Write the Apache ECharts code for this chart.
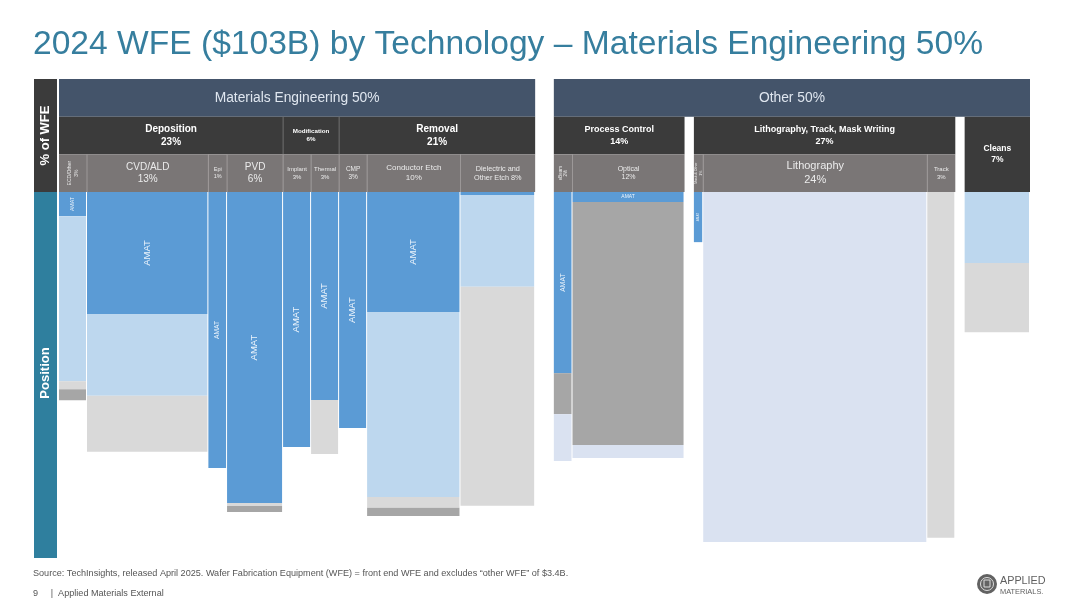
<!DOCTYPE html>
<html><head><meta charset="utf-8">
<script src="https://cdn.jsdelivr.net/npm/echarts@6/dist/echarts.min.js"></script>
<style>html,body{margin:0;padding:0;background:#fff}#c{width:1080px;height:608px}</style>
</head><body><div id="c"></div>
<script>
// ---------------- DATA ----------------
const titleText = '2024 WFE ($103B) by Technology \u2013 Materials Engineering 50%';
const topHeaders = ['Materials Engineering 50%', 'Other 50%'];
const groupNames = ['Deposition\n23%', 'Modification\n6%', 'Removal\n21%', 'Process Control\n14%', 'Lithography, Track, Mask Writing\n27%', 'Cleans\n7%'];
const groupPanel = [0, 0, 0, 1, 1, 1];
const groupSize  = [4, 2, 3, 2, 3, 1];
const columns = ['ECD/Other\n3%', 'CVD/ALD\n13%', 'Epi\n1%', 'PVD\n6%', 'Implant\n3%', 'Thermal\n3%', 'CMP\n3%', 'Conductor Etch\n10%', 'Dielectric and\nOther Etch 8%',
                 'eBeam\n2%', 'Optical\n12%', 'Mask & Other\n1%', 'Lithography\n24%', 'Track\n3%', ''];
// column widths as drawn (share of WFE)
const colWidth = [3, 13, 2, 6, 3, 3, 3, 10, 8, 2, 12, 1, 24, 3, 7];
// position shares per column, stacked from the top
const amat      = [6.6, 33.3, 75.4, 85.0, 69.7, 56.8, 64.5, 32.8, 0.8, 49.5, 2.7, 13.7, 0, 0, 0];
const lightBlue = [45.1, 22.4, 0, 0, 0, 0, 0, 50.5, 25.1, 0, 0, 0, 0, 0, 19.4];
const lightGray = [2.2, 15.3, 0, 0.8, 0, 14.8, 0, 3.0, 59.8, 0, 0, 0, 0, 94.5, 18.9];
const midGray   = [3.0, 0, 0, 1.6, 0, 0, 0, 2.2, 0, 11.2, 66.4, 0, 0, 0, 0];
const lavender  = [0, 0, 0, 0, 0, 0, 0, 0, 0, 12.8, 3.6, 0, 95.6, 0, 0];
const sourceText = 'Source: TechInsights, released April 2025. Wafer Fabrication Equipment (WFE) = front end WFE and excludes \u201cother WFE\u201d of $3.4B.';
const footerText = '9     |  Applied Materials External';

// ---------------- LAYOUT / STYLE ----------------
const FONT = 'Liberation Sans, Arial, sans-serif';
const panelStart = [0, 53];
const groupGap = [0, 1];
const segStyles = [
  {name: 'AMAT', values: amat, color: '#5b9bd5', label: 'AMAT'},
  {name: 'Peer A', values: lightBlue, color: '#bdd7ee'},
  {name: 'Others', values: lightGray, color: '#d9d9d9'},
  {name: 'Peer B', values: midGray, color: '#a6a6a6'},
  {name: 'Peer C', values: lavender, color: '#dae2f1'}
];
const subFont = [{fs: 5, rot: true}, {fs: 10}, {fs: 5.5}, {fs: 10}, {fs: 6}, {fs: 6}, {fs: 6.5}, {fs: 8}, {fs: 7.3},
                 {fs: 4.5, rot: true}, {fs: 7}, {fs: 3.5, rot: true}, {fs: 11}, {fs: 6}, {fs: 8}];
const groupFont = [10, 6.2, 10, 9, 9, 8.5];

// column & group x extents
const colX0 = [], colX1 = [], colGroup = [], groupX0 = [], groupX1 = [];
{
  let cursor = 0, prevPanel = -1, ci = 0;
  groupSize.forEach((n, g) => {
    const p = groupPanel[g];
    if (p !== prevPanel) { cursor = panelStart[p]; prevPanel = p; }
    else cursor += groupGap[p];
    groupX0[g] = cursor;
    for (let k = 0; k < n; k++, ci++) {
      colX0[ci] = cursor; cursor += colWidth[ci]; colX1[ci] = cursor; colGroup[ci] = g;
    }
    groupX1[g] = cursor;
  });
}

// header cells
const cells = [];
topHeaders.forEach((t, p) => {
  const gs = groupPanel.map((pp, i) => pp === p ? i : -1).filter(i => i >= 0);
  cells.push({x0: groupX0[gs[0]], x1: groupX1[gs[gs.length - 1]], r0: 0, r1: 1, text: t, kind: 'top', divider: false});
});
groupNames.forEach((t, g) => {
  const firstCol = colGroup.indexOf(g);
  const single = groupSize[g] === 1 && columns[firstCol] === '';
  const prevAdj = g > 0 && groupPanel[g - 1] === groupPanel[g] && groupGap[groupPanel[g]] === 0;
  cells.push({x0: groupX0[g], x1: groupX1[g], r0: 1, r1: single ? 3 : 2, text: t, kind: 'group', fs: groupFont[g], divider: prevAdj});
});
columns.forEach((t, c) => {
  if (t === '') return;
  const prevAdj = c > 0 && colX1[c - 1] === colX0[c];
  cells.push({x0: colX0[c], x1: colX1[c], r0: 2, r1: 3, text: t, kind: 'sub', fs: subFont[c].fs, rot: !!subFont[c].rot, divider: prevAdj});
});

const cellFill = {top: '#44546a', group: '#3b3b3b', sub: '#7a7676'};
const cellText = {top: '#dfe6ef', group: '#ffffff', sub: '#ebebeb'};
const divColor = {group: '#6a6a6a', sub: '#9c9898'};

function renderHeader(params, api) {
  const c = cells[params.dataIndex];
  const a = api.coord([c.x0, c.r0]), b = api.coord([c.x1, c.r1]);
  const x = a[0], y = a[1], w = b[0] - a[0], h = b[1] - a[1];
  const fs = c.kind === 'top' ? 13.8 : c.fs;
  const children = [
    {type: 'rect', shape: {x, y, width: w, height: h}, style: {fill: cellFill[c.kind]}},
    {type: 'text', x: x + w / 2, y: y + h / 2, rotation: c.rot ? Math.PI / 2 : 0,
     style: {text: c.text, fill: cellText[c.kind], fontSize: fs, fontFamily: FONT,
             fontWeight: c.kind === 'group' ? 'bold' : 'normal', lineHeight: fs * 1.25,
             align: 'center', verticalAlign: 'middle'}}
  ];
  if (c.divider) children.push({type: 'line', shape: {x1: x, y1: y, x2: x, y2: y + h}, style: {stroke: divColor[c.kind], lineWidth: 1}});
  return {type: 'group', children};
}

function makeSegRender(st) {
  return function (params, api) {
    const a = api.coord([api.value(0), api.value(2)]);
    const b = api.coord([api.value(1), api.value(3)]);
    const x = a[0], y = a[1], w = b[0] - a[0] - 1, h = b[1] - a[1];
    const children = [{type: 'rect', shape: {x, y, width: w, height: h}, style: {fill: st.color}}];
    if (st.label) {
      let fs, rot;
      if (h < 14) { fs = Math.min(9, h * 0.5); rot = false; }
      else { fs = Math.min(9.5, w * 0.38, h * 0.6 / 2.78); rot = true; }
      if (fs >= 3) children.push({type: 'text', x: x + w / 2, y: y + h / 2, rotation: rot ? Math.PI / 2 : 0,
        style: {text: st.label, fill: '#eef5fc', fontSize: fs, fontFamily: FONT, align: 'center', verticalAlign: 'middle'}});
    }
    return {type: 'group', children};
  };
}

const cum = colWidth.map(() => 0);
const segSeries = segStyles.map(st => {
  const data = [];
  st.values.forEach((v, c) => {
    if (v > 0) { data.push([colX0[c], colX1[c], cum[c], cum[c] + v]); cum[c] += v; }
  });
  return {type: 'custom', name: st.name, xAxisIndex: 1, yAxisIndex: 1, renderItem: makeSegRender(st),
          encode: {x: [0, 1], y: [2, 3]}, data, silent: true};
});

const totalX = panelStart[1] + 51;
const option = {
  animation: false,
  backgroundColor: '#ffffff',
  title: {text: titleText, left: 28, top: 23, textStyle: {fontSize: 33.6, fontWeight: 'normal', color: '#367e9e', fontFamily: FONT}},
  grid: [
    {left: 59, top: 79, width: 971, height: 113},
    {left: 59, top: 192, width: 971, height: 366}
  ],
  xAxis: [
    {type: 'value', gridIndex: 0, min: 0, max: totalX, show: false},
    {type: 'value', gridIndex: 1, min: 0, max: totalX, show: false}
  ],
  yAxis: [
    {type: 'value', gridIndex: 0, min: 0, max: 3, inverse: true, show: false},
    {type: 'value', gridIndex: 1, min: 0, max: 100, inverse: true, show: false}
  ],
  series: [
    {type: 'custom', name: 'headers', xAxisIndex: 0, yAxisIndex: 0, renderItem: renderHeader, silent: true,
     encode: {x: [0, 1], y: [2, 3]}, data: cells.map(c => [c.x0, c.x1, c.r0, c.r1])}
  ].concat(segSeries),
  graphic: [
    {type: 'rect', shape: {x: 34, y: 79, width: 23, height: 113}, style: {fill: '#3b3b3b'}},
    {type: 'text', x: 45.5, y: 135.5, rotation: Math.PI / 2,
     style: {text: '% of WFE', fill: '#ffffff', font: 'bold 13px ' + FONT, align: 'center', verticalAlign: 'middle', textAlign: 'center', textVerticalAlign: 'middle'}},
    {type: 'rect', shape: {x: 34, y: 192, width: 23, height: 366}, style: {fill: '#2f7f9e'}},
    {type: 'text', x: 45.5, y: 373, rotation: Math.PI / 2,
     style: {text: 'Position', fill: '#ffffff', font: 'bold 13px ' + FONT, align: 'center', verticalAlign: 'middle', textAlign: 'center', textVerticalAlign: 'middle'}},
    {type: 'text', x: 33, y: 573, style: {text: sourceText, fill: '#555555', font: '9.1px ' + FONT, verticalAlign: 'middle', textVerticalAlign: 'middle'}},
    {type: 'text', x: 33, y: 593, style: {text: footerText, fill: '#555555', font: '9.1px ' + FONT, verticalAlign: 'middle', textVerticalAlign: 'middle'}},
    {type: 'circle', shape: {cx: 987, cy: 584, r: 10}, style: {fill: '#626262'}},
    {type: 'circle', shape: {cx: 987, cy: 584, r: 6.5}, style: {fill: 'none', stroke: '#dddddd', lineWidth: 1}},
    {type: 'rect', shape: {x: 984, y: 580, width: 6, height: 7}, style: {fill: 'none', stroke: '#dddddd', lineWidth: 1}},
    {type: 'text', x: 1000, y: 581, style: {text: 'APPLIED', fill: '#5f5f5f', font: '10.8px ' + FONT, verticalAlign: 'middle', textVerticalAlign: 'middle'}},
    {type: 'text', x: 1000, y: 591.5, style: {text: 'MATERIALS.', fill: '#5f5f5f', font: '7.4px ' + FONT, verticalAlign: 'middle', textVerticalAlign: 'middle'}}
  ]
};
const chart = echarts.init(document.getElementById('c'));
chart.setOption(option);
</script>
</body></html>
